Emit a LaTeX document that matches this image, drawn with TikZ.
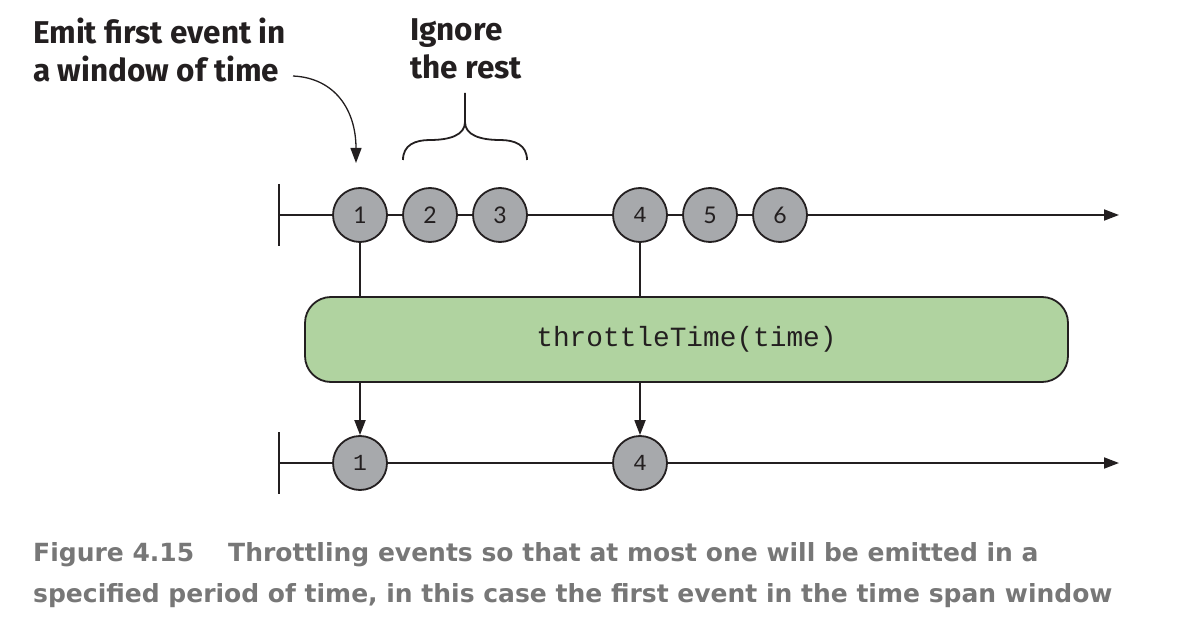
\documentclass[tikz,border=0pt]{standalone}
\usepackage{fontspec}
\usetikzlibrary{arrows.meta}
\newfontfamily\headfont{Fira Sans}
\newfontfamily\capfont{DejaVu Sans}
\newfontfamily\numfont{Lato}
\newfontfamily\codefont{Liberation Mono}
\definecolor{ink}{HTML}{231F20}
\definecolor{ballgray}{HTML}{A7A9AC}
\definecolor{opgreen}{HTML}{B0D3A0}
\definecolor{capgray}{HTML}{777777}
\begin{document}
\begin{tikzpicture}[x=1pt,y=-1pt,
  axisline/.style={draw=ink,line width=1.8pt},
  ball/.style={circle,draw=ink,line width=1.8pt,fill=ballgray,minimum size=54pt,inner sep=0pt,text=ink,font=\numfont\fontsize{23}{23}\selectfont},
  mball/.style={ball,font=\codefont\fontsize{23}{23}\selectfont},
  arrowtip/.style={-{Triangle[length=15pt,width=11pt]}},
  headtext/.style={font=\headfont\bfseries\fontsize{31.5}{38}\selectfont,text=ink,align=left,anchor=north west,inner sep=0pt},
  captext/.style={font=\capfont\bfseries\fontsize{25}{41}\selectfont,text=capgray,align=left,anchor=north west,inner sep=0pt}]
\useasboundingbox (0,0) rectangle (1177,617);
% labels
\node[headtext] (emit) at (33,18) {Emit first event in\\a window of time};
\node[headtext] (ign) at (410,18) {Ignore\\the rest};
% top timeline
\coordinate (ts) at (279,215);
\coordinate (te) at (1119,215);
\draw[axisline] (279,184) -- (279,246);
\draw[axisline,arrowtip] (ts) -- (te);
\node[ball] (a1) at (360,215) {1};
\node[ball] (a2) at (430,215) {2};
\node[ball] (a3) at (500,215) {3};
\node[mball] (a4) at (640,215) {4};
\node[ball] (a5) at (710,215) {5};
\node[ball] (a6) at (780,215) {6};
% operator
\node[draw=ink,line width=1.8pt,fill=opgreen,rounded corners=26pt,minimum width=763pt,minimum height=85pt,inner sep=0pt,font=\codefont\fontsize{27.8}{27.8}\selectfont,text=ink] (op) at (686.5,339.5) {throttleTime(time)};
% bottom timeline
\coordinate (bs) at (279,463);
\coordinate (be) at (1119,463);
\draw[axisline] (279,432) -- (279,494);
\draw[axisline,arrowtip] (bs) -- (be);
\node[mball] (b1) at (360,463) {1};
\node[mball] (b4) at (640,463) {4};
% connectors
\draw[axisline] (a1) -- (a1 |- op.north);
\draw[axisline] (a4) -- (a4 |- op.north);
\draw[axisline,arrowtip] (a1 |- op.south) -- (b1);
\draw[axisline,arrowtip] (a4 |- op.south) -- (b4);
% curved arrow
\coordinate (cs) at (293,76);
\coordinate (ce) at (356,163);
\draw[draw=ink,line width=1.3pt,arrowtip] (cs) .. controls (335,78) and (356,110) .. (ce);
% brace
\draw[draw=ink,line width=1.8pt] (403,160) .. controls (403,145) and (415,140) .. (430,140)
  .. controls (450,140) and (465,135) .. (465,122) -- (465,93);
\draw[draw=ink,line width=1.8pt] (527,160) .. controls (527,145) and (515,140) .. (500,140)
  .. controls (480,140) and (465,135) .. (465,122);
% caption
\node[captext] (capt) at (33,542) {Figure 4.15\hspace{34pt}Throttling events so that at most one will be emitted in a\\specified period of time, in this case the first event in the time span window};
\end{tikzpicture}
\end{document}
